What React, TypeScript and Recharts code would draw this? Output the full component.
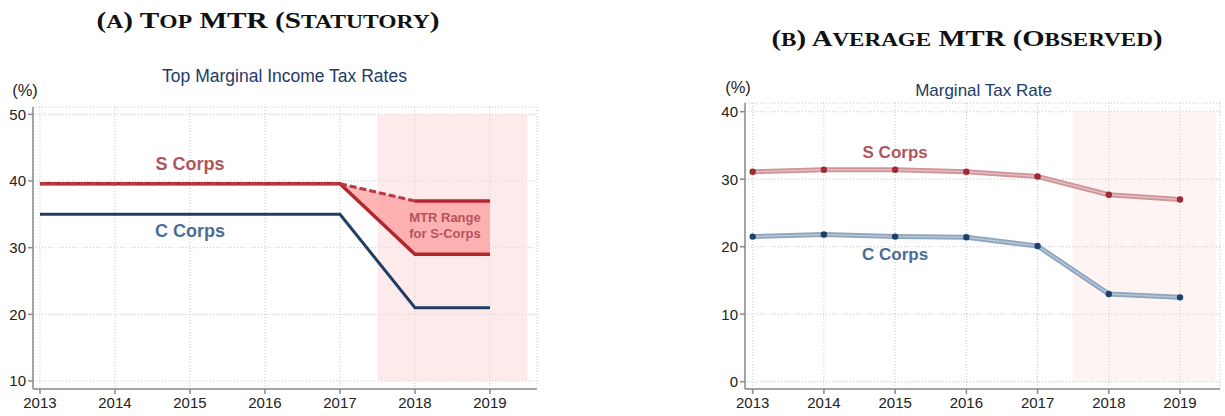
import React from 'react';
import {
  ComposedChart, Line, Area, XAxis, YAxis, CartesianGrid, ReferenceArea, ReferenceDot,
} from 'recharts';

// Years shown on both panels
const YEARS = [2013, 2014, 2015, 2016, 2017, 2018, 2019];

// Panel A: statutory top marginal rates (%)
const STAT_C_CORP = [35, 35, 35, 35, 35, 21, 21];
const STAT_S_CORP_HIGH = [39.6, 39.6, 39.6, 39.6, 39.6, 37, 37];
const STAT_S_CORP_LOW = [39.6, 39.6, 39.6, 39.6, 39.6, 29, 29];
const RANGE_FROM_YEAR = 2017;
const DASHED_UNTIL_YEAR = 2018;

// Panel B: observed average marginal rates (%)
const OBS_S_CORP = [31.1, 31.4, 31.4, 31.1, 30.4, 27.7, 27.0];
const OBS_C_CORP = [21.5, 21.8, 21.5, 21.4, 20.1, 13.0, 12.5];

const STAT_Y_TICKS = [10, 20, 30, 40, 50];
const OBS_Y_TICKS = [0, 10, 20, 30, 40];

const statData = YEARS.map((year, i) => ({
  year,
  cCorp: STAT_C_CORP[i],
  sLow: STAT_S_CORP_LOW[i],
  sHighDashed: year <= DASHED_UNTIL_YEAR ? STAT_S_CORP_HIGH[i] : null,
  sHighSolid: year >= DASHED_UNTIL_YEAR ? STAT_S_CORP_HIGH[i] : null,
  sRange: year >= RANGE_FROM_YEAR ? [STAT_S_CORP_LOW[i], STAT_S_CORP_HIGH[i]] : null,
}));

const obsData = YEARS.map((year, i) => ({
  year,
  sCorp: OBS_S_CORP[i],
  cCorp: OBS_C_CORP[i],
}));

const FONT = '"Liberation Sans", Arial, Helvetica, sans-serif';
const SERIF = '"Liberation Serif", "DejaVu Serif", serif';
const tickStyle = { fontSize: 15, fill: '#222', fontFamily: FONT };
const axisLine = { stroke: '#8a8a8a', strokeWidth: 1.5 };

const RED = '#b3282f';
const NAVY = '#1f3d66';
const RED_TEXT = '#b0555c';
const BLUE_TEXT = '#4a6d94';

const label = (value: string, fill: string, fontSize: number) => ({
  value,
  position: 'center' as const,
  fill,
  fontSize,
  fontWeight: 700,
  fontFamily: FONT,
});

// small caps by hand: lower-case runs are upper-cased at a smaller size
const smallCaps = (text: string, big: number, small: number) => {
  const runs: { s: string; low: boolean }[] = [];
  for (const ch of text) {
    const low = ch !== ch.toUpperCase();
    const last = runs[runs.length - 1];
    if (last && last.low === low) last.s += ch;
    else runs.push({ s: ch, low });
  }
  return runs.map((r, i) => (
    <tspan key={i} fontSize={r.low ? small : big}>{r.low ? r.s.toUpperCase() : r.s}</tspan>
  ));
};

const App: React.FC = () => {
  return (
    <div style={{ position: 'absolute', left: 0, top: 0, width: 1225, height: 416, background: '#fff' }}>
      {/* Panel A */}
      <div style={{ position: 'absolute', left: 0, top: 0 }}>
        <ComposedChart
          width={545}
          height={416}
          data={statData}
          margin={{ top: 107, right: 8, left: 0, bottom: 0 }}
        >
          <ReferenceArea x1={2017.5} x2={2019.5} y1={10} y2={50} fill="#fbd3d3" fillOpacity={0.45} stroke="none" />
          <CartesianGrid strokeDasharray="1 2" stroke="#c6c6c6" />
          <XAxis
            dataKey="year"
            type="number"
            domain={[2012.907, 2019.627]}
            ticks={YEARS}
            allowDataOverflow
            height={27}
            tick={tickStyle}
            tickSize={5}
            tickMargin={3}
            axisLine={axisLine}
            tickLine={axisLine}
          />
          <YAxis
            type="number"
            domain={[8.8, 51.1]}
            ticks={STAT_Y_TICKS}
            allowDataOverflow
            width={33}
            tick={tickStyle}
            tickSize={5}
            tickMargin={2}
            axisLine={axisLine}
            tickLine={axisLine}
          />
          <Area
            dataKey="sRange"
            type="linear"
            fill="#ff9e9e"
            fillOpacity={0.75}
            stroke="none"
            isAnimationActive={false}
          />
          <Line dataKey="cCorp" type="linear" stroke={NAVY} strokeWidth={3} dot={false} isAnimationActive={false} />
          <Line dataKey="sLow" type="linear" stroke={RED} strokeWidth={3.5} dot={false} isAnimationActive={false} />
          <Line dataKey="sHighDashed" type="linear" stroke="#b83a42" strokeWidth={3} strokeDasharray="7 3" dot={false} isAnimationActive={false} />
          <Line dataKey="sHighSolid" type="linear" stroke={RED} strokeWidth={3.5} dot={false} isAnimationActive={false} />
          <ReferenceDot x={2015} y={42.55} r={0} fill="none" stroke="none" label={label('S Corps', RED_TEXT, 18)} />
          <ReferenceDot x={2015} y={32.5} r={0} fill="none" stroke="none" label={label('C Corps', BLUE_TEXT, 18)} />
          <ReferenceDot x={2018.4} y={34.6} r={0} fill="none" stroke="none" label={label('MTR Range', '#b5545c', 13)} />
          <ReferenceDot x={2018.4} y={32.1} r={0} fill="none" stroke="none" label={label('for S-Corps', '#b5545c', 13)} />
        </ComposedChart>
      </div>

      {/* Panel B */}
      <div style={{ position: 'absolute', left: 700, top: 0 }}>
        <ComposedChart
          width={525}
          height={416}
          data={obsData}
          margin={{ top: 103, right: 5, left: 0, bottom: 0 }}
        >
          <ReferenceArea x1={2017.5} x2={2019.5} y1={0} y2={40} fill="#fbd3d3" fillOpacity={0.25} stroke="none" />
          <CartesianGrid strokeDasharray="1 2" stroke="#c6c6c6" />
          <XAxis
            dataKey="year"
            type="number"
            domain={[2012.892, 2019.561]}
            ticks={YEARS}
            allowDataOverflow
            height={27}
            tick={tickStyle}
            tickSize={5}
            tickMargin={3}
            axisLine={axisLine}
            tickLine={axisLine}
          />
          <YAxis
            type="number"
            domain={[-1.08, 41.29]}
            ticks={OBS_Y_TICKS}
            allowDataOverflow
            width={45}
            tick={tickStyle}
            tickSize={5}
            tickMargin={2}
            axisLine={axisLine}
            tickLine={axisLine}
          />
          <Line key="s-band" dataKey="sCorp" type="linear" stroke="#cf9499" strokeWidth={5} dot={false} isAnimationActive={false} />
          <Line key="s-inner" dataKey="sCorp" type="linear" stroke="#e4bcbf" strokeWidth={1.5} dot={false} isAnimationActive={false} />
          <Line key="c-band" dataKey="cCorp" type="linear" stroke="#8ea5bd" strokeWidth={5} dot={false} isAnimationActive={false} />
          <Line key="c-inner" dataKey="cCorp" type="linear" stroke="#b6c5d4" strokeWidth={1.5} isAnimationActive={false}
            dot={{ r: 3.2, fill: '#1f4068', stroke: 'none' }} />
          <Line key="s-dots" dataKey="sCorp" type="linear" stroke="none" isAnimationActive={false}
            dot={{ r: 3.2, fill: '#9e2a35', stroke: 'none' }} />
          <ReferenceDot x={2015} y={34.07} r={0} fill="none" stroke="none" label={label('S Corps', RED_TEXT, 17)} />
          <ReferenceDot x={2015} y={18.95} r={0} fill="none" stroke="none" label={label('C Corps', BLUE_TEXT, 17)} />
        </ComposedChart>
      </div>

      {/* Titles and axis captions */}
      <svg width={1225} height={416} style={{ position: 'absolute', left: 0, top: 0, pointerEvents: 'none' }}>
        <text x={268} y={27.5} textAnchor="middle" fontFamily={SERIF} fontWeight={700} fill="#111"
          textLength={343} lengthAdjust="spacingAndGlyphs">
          {smallCaps('(a) Top MTR (Statutory)', 23, 18.5)}
        </text>
        <text x={967} y={45.7} textAnchor="middle" fontFamily={SERIF} fontWeight={700} fill="#111"
          textLength={391} lengthAdjust="spacingAndGlyphs">
          {smallCaps('(b) Average MTR (Observed)', 23, 18.5)}
        </text>
        <text x={284.5} y={82} textAnchor="middle" fontFamily={FONT} fontSize={17.5} fill="#233a66">
          Top Marginal Income Tax Rates
        </text>
        <text x={983.5} y={96} textAnchor="middle" fontFamily={FONT} fontSize={17} fill="#233a66">
          Marginal Tax Rate
        </text>
        <text x={25} y={96} textAnchor="middle" fontFamily={FONT} fontSize={16.5} fill="#222">(%)</text>
        <text x={738} y={93.3} textAnchor="middle" fontFamily={FONT} fontSize={16.5} fill="#222">(%)</text>
      </svg>
    </div>
  );
};

export default App;
